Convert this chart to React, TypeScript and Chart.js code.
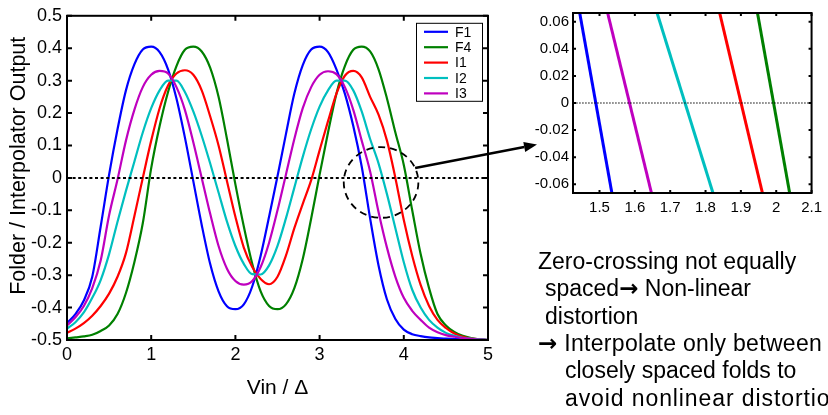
import React, { useEffect, useRef } from "react";
import { Chart, registerables } from "chart.js";

Chart.register(...registerables);

// ---------- data ----------
const vin = [
  0.0, 0.1, 0.2, 0.3, 0.4, 0.5, 0.6, 0.7, 0.8, 0.9,
  1.0, 1.1, 1.2, 1.3, 1.4, 1.5, 1.6, 1.7, 1.8, 1.9,
  2.0, 2.1, 2.2, 2.3, 2.4, 2.5, 2.6, 2.7, 2.8, 2.9,
  3.0, 3.1, 3.2, 3.3, 3.4, 3.5, 3.6, 3.7, 3.8, 3.9,
  4.0, 4.1, 4.2, 4.3, 4.4, 4.5, 4.6, 4.7, 4.8, 4.9, 5.0,
];

const outF1 = [
  -0.448, -0.42, -0.378, -0.305, -0.15, 0.01, 0.15, 0.27, 0.35, 0.396,
  0.405, 0.388, 0.335, 0.245, 0.125, -0.01, -0.145, -0.265, -0.35, -0.396,
  -0.405, -0.39, -0.335, -0.24, -0.12, 0.005, 0.135, 0.26, 0.348, 0.396,
  0.405, 0.388, 0.335, 0.26, 0.16, 0.035, -0.125, -0.27, -0.375, -0.435,
  -0.468, -0.482, -0.488, -0.492, -0.494, -0.496, -0.497, -0.498, -0.499, -0.499, -0.5,
];

const outF4 = [
  -0.495, -0.492, -0.489, -0.484, -0.472, -0.455, -0.42, -0.355, -0.26, -0.14,
  0.03, 0.16, 0.265, 0.345, 0.395, 0.405, 0.39, 0.34, 0.25, 0.12,
  -0.02, -0.15, -0.265, -0.35, -0.395, -0.405, -0.39, -0.34, -0.25, -0.125,
  0.01, 0.14, 0.26, 0.345, 0.395, 0.405, 0.39, 0.335, 0.245, 0.14,
  0.04, -0.1, -0.235, -0.34, -0.42, -0.455, -0.475, -0.487, -0.494, -0.498, -0.5,
];

const outI1 = [
  -0.478, -0.465, -0.448, -0.425, -0.395, -0.357, -0.305, -0.232, -0.118, 0.0,
  0.115, 0.215, 0.285, 0.322, 0.332, 0.318, 0.27, 0.19, 0.1, -0.01,
  -0.12, -0.215, -0.275, -0.312, -0.328, -0.305, -0.24, -0.155, -0.08, -0.007,
  0.085, 0.175, 0.26, 0.315, 0.33, 0.31, 0.25, 0.195, 0.115, 0.0,
  -0.13, -0.24, -0.33, -0.395, -0.438, -0.463, -0.48, -0.49, -0.495, -0.498, -0.5,
];

const outI2 = [
  -0.465, -0.445, -0.415, -0.37, -0.315, -0.235, -0.135, -0.04, 0.05, 0.14,
  0.215, 0.27, 0.3, 0.3, 0.265, 0.205, 0.13, 0.045, -0.045, -0.135,
  -0.21, -0.265, -0.297, -0.298, -0.27, -0.21, -0.125, -0.03, 0.065, 0.15,
  0.22, 0.27, 0.3, 0.3, 0.27, 0.205, 0.12, 0.045, -0.05, -0.155,
  -0.26, -0.345, -0.4, -0.438, -0.462, -0.478, -0.487, -0.493, -0.496, -0.498, -0.5,
];

const outI3 = [
  -0.455, -0.43, -0.395, -0.34, -0.255, -0.115, -0.005, 0.115, 0.21, 0.28,
  0.318, 0.33, 0.322, 0.28, 0.21, 0.11, 0.0, -0.11, -0.21, -0.28,
  -0.318, -0.329, -0.318, -0.275, -0.2, -0.1, 0.01, 0.12, 0.215, 0.28,
  0.318, 0.329, 0.32, 0.28, 0.21, 0.115, 0.02, -0.105, -0.215, -0.305,
  -0.37, -0.41, -0.438, -0.462, -0.476, -0.485, -0.49, -0.494, -0.497, -0.499, -0.5,
];

const seriesNames = ["F1", "F4", "I1", "I2", "I3"];
const seriesColors = ["#0000FF", "#008000", "#FF0000", "#00BFBF", "#BF00BF"];

const mainXTicks = [0, 1, 2, 3, 4, 5];
const mainYTicks = [-0.5, -0.4, -0.3, -0.2, -0.1, 0, 0.1, 0.2, 0.3, 0.4, 0.5];

// inset (zoom of the zero crossings): x at the top edge and at the bottom edge
const insetEdgeY = [0.0664, -0.0664];
const insetTopX = [1.444, 1.947, 1.84, 1.663, 1.523];
const insetBottomX = [1.535, 2.038, 1.961, 1.821, 1.647];
const insetXTicks = [1.5, 1.6, 1.7, 1.8, 1.9, 2, 2.1];
const insetYTicks = [-0.06, -0.04, -0.02, 0, 0.02, 0.04, 0.06];

// note text; "\u2192" is drawn as an arrow glyph
const noteLines = [
  ["", "Zero-crossing not equally"],
  ["spaced", "\u2192", " Non-linear"],
  ["distortion"],
  ["", "\u2192", " Interpolate only between"],
  ["closely spaced folds to"],
  ["avoid nonlinear distortion"],
];

// ---------- layout / style ----------
const FONT = "'Liberation Sans', Arial, Helvetica, sans-serif";
const ARROW_FONT = "'DejaVu Sans', sans-serif";
const noteLeft = [538, 545, 545, 538, 565, 565];
const noteBaseline = [269.5, 296.8, 324.1, 351.4, 378.7, 406];
const noteSpacing = [0, 0, 0, 0.3, 0, 0.9];
const NOTE_SIZE = 23;
const zoomEllipse = { x: 3.73, y: -0.014, rx: 0.443, ry: 0.109 };

const frameTicks = {
  id: "frameTicks",
  afterDatasetsDraw(chart: any, _a: any, opts: any) {
    const { ctx, chartArea: a } = chart;
    const xs = chart.scales.x;
    const ys = chart.scales.y;
    const len = opts.tickLen ?? 5;
    ctx.save();
    ctx.strokeStyle = "#000";
    ctx.lineWidth = opts.lineWidth ?? 2;
    ctx.beginPath();
    for (const t of xs.ticks) {
      const p = xs.getPixelForValue(t.value);
      ctx.moveTo(p, a.bottom);
      ctx.lineTo(p, a.bottom - len);
      ctx.moveTo(p, a.top);
      ctx.lineTo(p, a.top + len);
    }
    for (const t of ys.ticks) {
      const p = ys.getPixelForValue(t.value);
      ctx.moveTo(a.left, p);
      ctx.lineTo(a.left + len, p);
      ctx.moveTo(a.right, p);
      ctx.lineTo(a.right - len, p);
    }
    ctx.stroke();
    ctx.strokeRect(a.left, a.top, a.right - a.left, a.bottom - a.top);
    ctx.restore();
  },
};

const mainExtras = {
  id: "mainExtras",
  afterDraw(chart: any) {
    const { ctx, chartArea: a } = chart;
    const xs = chart.scales.x;
    const ys = chart.scales.y;
    ctx.save();
    // axis titles
    ctx.fillStyle = "#000";
    ctx.font = `21px ${FONT}`;
    ctx.textAlign = "center";
    ctx.textBaseline = "middle";
    ctx.fillText("Vin / \u0394", (a.left + a.right) / 2, a.bottom + 48);
    ctx.save();
    ctx.translate(19, a.top + 150);
    ctx.rotate(-Math.PI / 2);
    ctx.font = `21.5px ${FONT}`;
    ctx.fillText("Folder / Interpolator Output", 0, 0);
    ctx.restore();

    // legend
    const bx = a.right - 72;
    const by = a.top + 7;
    ctx.fillStyle = "#fff";
    ctx.fillRect(bx, by, 66, 78);
    ctx.strokeStyle = "#000";
    ctx.lineWidth = 1;
    ctx.strokeRect(bx + 0.5, by + 0.5, 66, 78);
    ctx.font = `14px ${FONT}`;
    ctx.textAlign = "left";
    seriesNames.forEach((n, i) => {
      const yy = by + 9 + i * 15.4;
      ctx.strokeStyle = seriesColors[i];
      ctx.lineWidth = 2.2;
      ctx.beginPath();
      ctx.moveTo(bx + 8, yy);
      ctx.lineTo(bx + 32, yy);
      ctx.stroke();
      ctx.fillStyle = "#000";
      ctx.fillText(n, bx + 39, yy + 1);
    });

    // dashed ellipse around the zoomed zero crossings
    const cx = xs.getPixelForValue(zoomEllipse.x);
    const cy = ys.getPixelForValue(zoomEllipse.y);
    const rx = Math.abs(xs.getPixelForValue(zoomEllipse.x + zoomEllipse.rx) - cx);
    const ry = Math.abs(ys.getPixelForValue(zoomEllipse.y + zoomEllipse.ry) - cy);
    ctx.strokeStyle = "#000";
    ctx.lineWidth = 1.8;
    ctx.setLineDash([7, 5]);
    ctx.beginPath();
    ctx.ellipse(cx, cy, rx, ry, 0, 0, Math.PI * 2);
    ctx.stroke();
    ctx.setLineDash([]);

    // arrow to the inset
    const th = (-24 * Math.PI) / 180;
    const sx = cx + rx * Math.cos(th);
    const sy = cy + ry * Math.sin(th);
    const ex = 537;
    const ey = 144.5;
    const ang = Math.atan2(ey - sy, ex - sx);
    const hl = 13;
    const hw = 5;
    const bxh = ex - hl * Math.cos(ang);
    const byh = ey - hl * Math.sin(ang);
    ctx.lineWidth = 2.6;
    ctx.beginPath();
    ctx.moveTo(sx, sy);
    ctx.lineTo(bxh, byh);
    ctx.stroke();
    ctx.fillStyle = "#000";
    ctx.beginPath();
    ctx.moveTo(ex, ey);
    ctx.lineTo(bxh + hw * Math.sin(ang), byh - hw * Math.cos(ang));
    ctx.lineTo(bxh - hw * Math.sin(ang), byh + hw * Math.cos(ang));
    ctx.closePath();
    ctx.fill();
    ctx.restore();
  },
};

const fmt1 = (v: number) => String(Math.round(v * 10) / 10);
const fmt2 = (v: number) => String(Math.round(v * 100) / 100);

export default function App() {
  const mainRef = useRef<HTMLCanvasElement | null>(null);
  const insetRef = useRef<HTMLCanvasElement | null>(null);

  useEffect(() => {
    const allSeries = [outF1, outF4, outI1, outI2, outI3];
    const mainDatasets: any[] = allSeries.map((s, i) => ({
      label: seriesNames[i],
      data: vin.map((x, k) => ({ x, y: s[k] })),
      borderColor: seriesColors[i],
      backgroundColor: seriesColors[i],
      borderWidth: 2.2,
      pointRadius: 0,
      cubicInterpolationMode: "monotone",
      fill: false,
      order: 5 - i,
    }));
    mainDatasets.push({
      label: "zero",
      data: [
        { x: vin[0], y: 0 },
        { x: vin[vin.length - 1], y: 0 },
      ],
      borderColor: "#000",
      borderWidth: 2,
      borderDash: [3, 2.6],
      pointRadius: 0,
      fill: false,
      order: 0,
    });

    const tickFont = { family: FONT, size: 18 };
    const main = new Chart(mainRef.current as HTMLCanvasElement, {
      type: "line",
      data: { datasets: mainDatasets },
      options: {
        animation: false,
        responsive: false,
        maintainAspectRatio: false,
        devicePixelRatio: 1,
        layout: { padding: { left: 0, top: 9, right: 340, bottom: 0 } },
        plugins: {
          legend: { display: false },
          tooltip: { enabled: false },
          frameTicks: { lineWidth: 2, tickLen: 5 },
        } as any,
        scales: {
          x: {
            type: "linear",
            min: 0,
            max: 5,
            afterFit: (s: any) => {
              s.height = 75;
            },
            afterBuildTicks: (s: any) => {
              s.ticks = mainXTicks.map((v) => ({ value: v }));
            },
            grid: { display: false, drawTicks: false },
            border: { display: false },
            ticks: {
              color: "#000",
              font: tickFont,
              padding: 4,
              maxRotation: 0,
              autoSkip: false,
              callback: (v: any) => fmt1(Number(v)),
            },
          },
          y: {
            type: "linear",
            min: -0.5,
            max: 0.5,
            afterFit: (s: any) => {
              s.width = 67;
            },
            afterBuildTicks: (s: any) => {
              s.ticks = mainYTicks.map((v) => ({ value: v }));
            },
            grid: { display: false, drawTicks: false },
            border: { display: false },
            ticks: {
              color: "#000",
              font: tickFont,
              padding: 5,
              autoSkip: false,
              callback: (v: any) => fmt1(Number(v)),
            },
          },
        },
      } as any,
      plugins: [frameTicks, mainExtras],
    });

    const insetDatasets: any[] = insetTopX.map((tx, i) => ({
      label: seriesNames[i],
      data: [
        { x: tx, y: insetEdgeY[0] },
        { x: insetBottomX[i], y: insetEdgeY[1] },
      ],
      borderColor: seriesColors[i],
      borderWidth: 3,
      pointRadius: 0,
      fill: false,
      order: 5 - i,
    }));
    insetDatasets.push({
      label: "zero",
      data: [
        { x: 1.4, y: 0 },
        { x: 2.2, y: 0 },
      ],
      borderColor: "#000",
      borderWidth: 1.2,
      borderDash: [1.5, 1.5],
      pointRadius: 0,
      fill: false,
      order: 0,
    });

    const insetFont = { family: FONT, size: 15 };
    const inset = new Chart(insetRef.current as HTMLCanvasElement, {
      type: "line",
      data: { datasets: insetDatasets },
      options: {
        animation: false,
        responsive: false,
        maintainAspectRatio: false,
        devicePixelRatio: 1,
        layout: { padding: { left: 0, top: 4, right: 13, bottom: 0 } },
        plugins: {
          legend: { display: false },
          tooltip: { enabled: false },
          frameTicks: { lineWidth: 2, tickLen: 3 },
        } as any,
        scales: {
          x: {
            type: "linear",
            min: 1.425,
            max: 2.1,
            afterFit: (s: any) => {
              s.height = 37;
            },
            afterBuildTicks: (s: any) => {
              s.ticks = insetXTicks.map((v) => ({ value: v }));
            },
            grid: { display: false, drawTicks: false },
            border: { display: false },
            ticks: {
              color: "#000",
              font: insetFont,
              padding: 6,
              maxRotation: 0,
              autoSkip: false,
              callback: (v: any) => fmt1(Number(v)),
            },
          },
          y: {
            type: "linear",
            min: -0.0664,
            max: 0.0664,
            afterFit: (s: any) => {
              s.width = 83;
            },
            afterBuildTicks: (s: any) => {
              s.ticks = insetYTicks.map((v) => ({ value: v }));
            },
            grid: { display: false, drawTicks: false },
            border: { display: false },
            ticks: {
              color: "#000",
              font: insetFont,
              padding: 4,
              autoSkip: false,
              callback: (v: any) => fmt2(Number(v)),
            },
          },
        },
      } as any,
      plugins: [frameTicks],
    });

    return () => {
      main.destroy();
      inset.destroy();
    };
  }, []);

  return (
    <div
      style={{
        position: "fixed",
        left: 0,
        top: 0,
        width: 828,
        height: 415,
        overflow: "hidden",
        background: "#fff",
      }}
    >
      <canvas
        ref={mainRef}
        width={828}
        height={415}
        style={{ position: "absolute", left: 0, top: 0, width: 828, height: 415 }}
      />
      <canvas
        ref={insetRef}
        width={338}
        height={230}
        style={{ position: "absolute", left: 490, top: 0, width: 338, height: 230 }}
      />
      {noteLines.map((parts, i) => (
        <div
          key={i}
          style={{
            position: "absolute",
            left: noteLeft[i],
            top: noteBaseline[i] - 0.8465 * NOTE_SIZE,
            fontFamily: FONT,
            fontSize: NOTE_SIZE,
            lineHeight: `${NOTE_SIZE}px`,
            letterSpacing: noteSpacing[i],
            whiteSpace: "pre",
            color: "#000",
          }}
        >
          {parts.map((p, k) =>
            p === "\u2192" ? (
              <span key={k} style={{ fontFamily: ARROW_FONT, fontWeight: "bold" }}>
                {p}
              </span>
            ) : (
              <span key={k}>{p}</span>
            )
          )}
        </div>
      ))}
    </div>
  );
}
